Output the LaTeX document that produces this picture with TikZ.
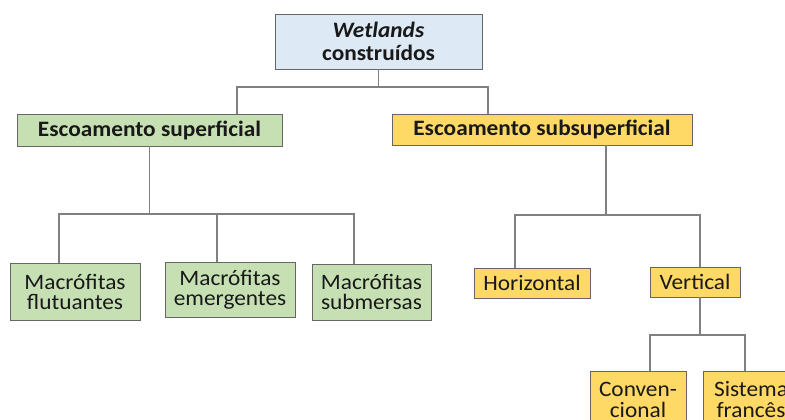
\documentclass[tikz,border=0pt]{standalone}
\usepackage{fontspec}
\setmainfont{Carlito}[FakeStretch=1.06]
\definecolor{azulclaro}{HTML}{DDEAF6}
\definecolor{verdeclaro}{HTML}{C6E0B4}
\definecolor{amarelo}{HTML}{FFD966}
\begin{document}
\begin{tikzpicture}[x=1pt,y=-1pt,
  caixa/.style={draw=black!60, line width=0.8pt, align=center, inner sep=0pt,
    text=black!90, font=\fontsize{22}{20}\selectfont},
  topo/.style={caixa, fill=azulclaro, font=\fontsize{22}{23}\selectfont\bfseries},
  verde/.style={caixa, fill=verdeclaro},
  amar/.style={caixa, fill=amarelo},
  negrito/.style={font=\fontsize{22}{23}\selectfont\bfseries},
  liga/.style={draw=black!50, line width=1.2pt}]
\useasboundingbox (0,0) rectangle (785,420);
% nivel 1
\node[topo, minimum width=207pt, minimum height=55pt] (wet) at (378.5,41.5) {\textit{Wetlands}\\construídos};
% nivel 2
\node[verde, negrito, minimum width=265pt, minimum height=32pt] (sup) at (149.5,130) {Escoamento superficial};
\node[amar, negrito, minimum width=300pt, minimum height=31pt] (sub) at (542,129.5) {Escoamento subsuperficial};
% nivel 3
\node[verde, minimum width=130pt, minimum height=57pt] (flu) at (75,291.5) {Macrófitas\\flutuantes};
\node[verde, minimum width=130pt, minimum height=55pt] (eme) at (230,289.5) {Macrófitas\\emergentes};
\node[verde, minimum width=119pt, minimum height=56pt] (sbm) at (371.5,292) {Macrófitas\\submersas};
\node[amar, minimum width=116pt, minimum height=30pt] (hor) at (532,283) {Horizontal};
\node[amar, minimum width=90pt, minimum height=30pt] (ver) at (695,282) {Vertical};
% nivel 4
\node[amar, minimum width=96pt, minimum height=58pt, font=\fontsize{22}{21}\selectfont] (con) at (638,400) {Conven-\\cional};
\node[amar, minimum width=96pt, minimum height=58pt, font=\fontsize{22}{21}\selectfont] (fra) at (751,400) {Sistema\\francês};
% ligacoes
\coordinate (ja) at (237,87);
\coordinate (jb) at (488,87);
\draw[liga] (wet.south) -- (wet.south |- ja);
\draw[liga] (ja |- sup.north) -- (ja) -- (jb) -- (jb |- sub.north);
\coordinate (jc) at (59,214);
\coordinate (jd) at (217,214);
\coordinate (je) at (354,214);
\draw[liga] (sup.south) -- (sup.south |- jd);
\draw[liga] (jc |- flu.north) -- (jc) -- (je) -- (je |- sbm.north);
\draw[liga] (jd) -- (jd |- eme.north);
\coordinate (jf) at (515,215);
\coordinate (jg) at (700,215);
\draw[liga] (sub.south -| 606,0) -- (606,215);
\draw[liga] (jf |- hor.north) -- (jf) -- (jg) -- (jg |- ver.north);
\coordinate (jh) at (650,335);
\coordinate (ji) at (745,335);
\draw[liga] (ver.south -| jg) -- (jg |- jh);
\draw[liga] (jh |- con.north) -- (jh) -- (ji) -- (ji |- fra.north);
\end{tikzpicture}
\end{document}
